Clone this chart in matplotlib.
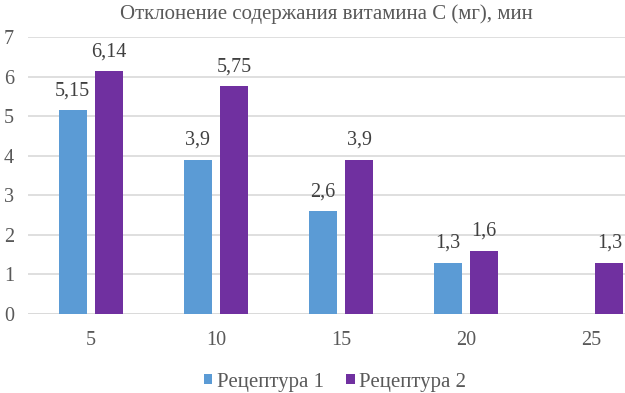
import matplotlib
matplotlib.use("Agg")
import matplotlib.pyplot as plt
import numpy as np

categories = ["5", "10", "15", "20", "25"]
series_names = ["Рецептура 1", "Рецептура 2"]
recipe1 = [5.15, 3.9, 2.6, 1.3, None]
recipe2 = [6.14, 5.75, 3.9, 1.6, 1.3]
title = "Отклонение содержания витамина С (мг), мин"

colors = ["#5B9BD5", "#7030A0"]
text_color = "#595959"
plt.rcParams['font.family'] = ['Liberation Serif', 'DejaVu Serif']

fig = plt.figure(figsize=(6.25, 3.93), dpi=100)
ax = fig.add_axes([28/625, 1-314/393, 626/625, (314-37)/393])

x = np.arange(len(categories))
width = 0.223
offset = 0.144

def fmt(v):
    s = f"{v:.2f}".rstrip("0").rstrip(".")
    return s.replace(".", ",")

for vals, off, col, name in [(recipe1, -offset, colors[0], series_names[0]),
                             (recipe2, offset, colors[1], series_names[1])]:
    xs = [xi + off for xi, v in zip(x, vals) if v is not None]
    vs = [v for v in vals if v is not None]
    bars = ax.bar(xs, vs, width=width, color=col, label=name, zorder=3)
    for b, v in zip(bars, vs):
        ax.annotate(fmt(v), (b.get_x() + b.get_width()/2, v), xytext=(0, 7),
                    textcoords="offset points", ha="center", va="bottom",
                    fontsize=14.5, color="#404040")

ax.set_xlim(-0.5, len(categories) - 0.5)
ax.set_ylim(0, 7)
ax.set_yticks(range(0, 8))
ax.set_xticks(x)
ax.set_xticklabels(categories)
ax.tick_params(axis="both", length=0, labelsize=14.5, labelcolor=text_color)
ax.tick_params(axis="x", pad=12)
ax.tick_params(axis="y", pad=10)
ax.grid(axis="y", color="#D9D9D9", linewidth=1.2, zorder=0)
for s in ["top", "right", "left", "bottom"]:
    ax.spines[s].set_visible(False)
ax.axhline(0, color="#D9D9D9", linewidth=1.2, zorder=1)

fig.text(326/625, 1-14/393, title, ha="center", va="center", fontsize=15, color=text_color)

handles, labels = ax.get_legend_handles_labels()
fig.legend(handles, labels, loc="center", bbox_to_anchor=(335/625, 1-382/393),
           ncol=2, frameon=False, fontsize=15, handlelength=0.4, handleheight=0.4,
           handletextpad=0.2, columnspacing=1.1, labelcolor=text_color)

fig.savefig("out.png", dpi=100)
